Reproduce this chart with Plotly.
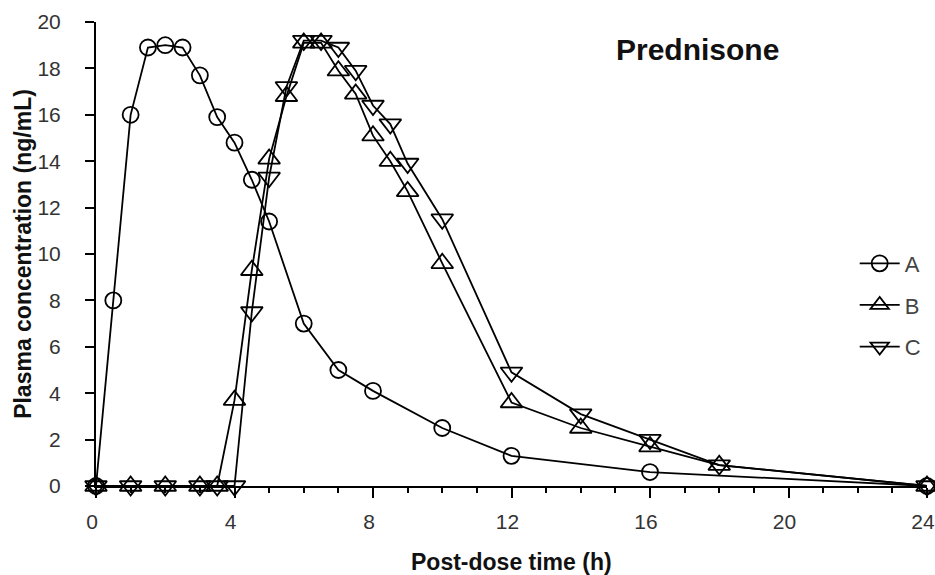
import plotly.graph_objects as go

# Data
time_a = [0, 0.5, 1, 1.5, 2, 2.5, 3, 3.5, 4, 4.5, 5, 6, 7, 8, 10, 12, 16, 24]
conc_a = [0, 8.0, 16.0, 18.9, 19.0, 18.9, 17.7, 15.9, 14.8, 13.2, 11.4, 7.0, 5.0, 4.1, 2.5, 1.3, 0.6, 0]

time_bc = [0, 1, 2, 3, 3.5, 4, 4.5, 5, 5.5, 6, 6.5, 7, 7.5, 8, 8.5, 9, 10, 12, 14, 16, 18, 24]
conc_b = [0, 0, 0, 0, 0, 3.7, 9.3, 14.1, 16.8, 19.1, 19.1, 17.9, 16.9, 15.1, 14.0, 12.7, 9.6, 3.6, 2.5, 1.7, 0.9, 0]
conc_c = [0, 0, 0, 0, 0, 0, 7.5, 13.3, 17.2, 19.2, 19.2, 18.9, 17.9, 16.4, 15.6, 13.9, 11.5, 4.9, 3.1, 2.0, 0.9, 0]

x_ticks = [0, 4, 8, 12, 16, 20, 24]
y_ticks = [0, 2, 4, 6, 8, 10, 12, 14, 16, 18, 20]

FONT = "Liberation Sans, Arial, sans-serif"

fig = go.Figure()
series = [
    ("A", time_a, conc_a, "circle-open", 16),
    ("B", time_bc, conc_b, "triangle-up-open", 19),
    ("C", time_bc, conc_c, "triangle-down-open", 19),
]
for name, xs, ys, sym, size in series:
    fig.add_trace(go.Scatter(
        x=xs, y=ys, name=name, mode="lines+markers",
        line=dict(color="black", width=1.8),
        marker=dict(symbol=sym, size=size, color="black", line=dict(width=1.8, color="black")),
        cliponaxis=False, legendgroup=name,
    ))

fig.update_layout(
    width=935, height=575,
    margin=dict(l=96, r=8, t=22, b=89, autoexpand=False),
    paper_bgcolor="white", plot_bgcolor="white",
    font=dict(family=FONT, color="#333", size=21),
    showlegend=True,
    legend=dict(x=0.913, y=0.39, xanchor="left", yanchor="middle",
                bgcolor="rgba(0,0,0,0)", font=dict(size=22, color="#444", family=FONT),
                tracegroupgap=10, itemwidth=40),
    xaxis=dict(range=[x_ticks[0], x_ticks[-1]], tickmode="linear", tick0=x_ticks[0],
               dtick=x_ticks[1] - x_ticks[0], automargin=False,
               showgrid=False, zeroline=False, showline=True, linecolor="black", linewidth=2,
               ticks="outside", ticklen=10, tickwidth=2, tickcolor="black",
               ticklabelstandoff=6, ticklabelshift=-4, ticklabeloverflow="allow",
               minor=dict(tickmode="linear", tick0=0, dtick=1, ticks="outside", ticklen=5,
                          tickwidth=1.5, tickcolor="black", showgrid=False),
               tickfont=dict(size=21, color="#333")),
    yaxis=dict(range=[y_ticks[0], y_ticks[-1]], tickvals=y_ticks, ticktext=[str(v) for v in y_ticks],
               automargin=False,
               showgrid=False, zeroline=False, showline=True, linecolor="black", linewidth=2,
               ticks="outside", ticklen=9, tickwidth=2, tickcolor="black",
               ticklabelstandoff=20, ticklabeloverflow="allow",
               tickfont=dict(size=21, color="#333")),
    annotations=[
        dict(text="<b>Prednisone</b>", x=0.7244, y=0.9397, xref="paper", yref="paper",
             showarrow=False, font=dict(size=30, color="#111", family=FONT),
             xanchor="center", yanchor="middle"),
        dict(text="<b>Post-dose time (h)</b>", x=0.5006, y=-0.164, xref="paper", yref="paper",
             showarrow=False, font=dict(size=23, color="#111", family=FONT),
             xanchor="center", yanchor="middle"),
        dict(text="<b>Plasma concentration (ng/mL)</b>", x=-0.088, y=0.5, xref="paper", yref="paper",
             showarrow=False, textangle=-90, font=dict(size=23, color="#111", family=FONT),
             xanchor="center", yanchor="middle"),
    ],
)

fig.write_html("out.html", config={"displayModeBar": False},
               post_script="document.body.style.margin='0';document.body.style.overflow='hidden';")
